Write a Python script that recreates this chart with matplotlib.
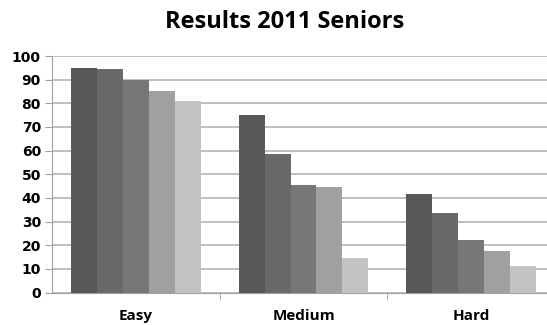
import matplotlib
matplotlib.use("Agg")
import matplotlib.pyplot as plt
import numpy as np

categories = ["Easy", "Medium", "Hard"]
series_values = [
    [95, 75, 41.5],
    [94.5, 58.5, 33.5],
    [90, 45.5, 22],
    [85, 44.5, 17.5],
    [80.8, 14.5, 11],
]
colors = ["#585858", "#696969", "#777777", "#a0a0a0", "#c3c3c3"]
yticks = list(range(0, 101, 10))

fig = plt.figure(figsize=(5.47, 3.25), dpi=100)
ax = fig.add_axes([52/547, (325-292.5)/325, (555-52)/547, (292.5-56)/325])

x = np.arange(len(categories))
n = len(series_values)
w = 0.155
for i, vals in enumerate(series_values):
    ax.bar(x + (i - (n-1)/2) * w, vals, width=w, color=colors[i], zorder=3)

ax.set_ylim(0, 100)
ax.set_xlim(-0.5, len(categories) - 0.5)
ax.set_yticks(yticks)
ax.set_yticklabels([str(v) for v in yticks], fontsize=10, fontweight="bold", family="DejaVu Sans")
ax.yaxis.grid(True, color="#b4b4b4", linewidth=1.2, zorder=0)
ax.set_axisbelow(True)
ax.set_xticks(x)
ax.set_xticklabels(categories, fontsize=11, fontweight="bold", family="Open Sans")
ax.set_xticks([0.5, 1.5], minor=True)
ax.tick_params(axis="x", which="major", length=0, pad=12)
ax.tick_params(axis="x", which="minor", length=5, color="#a0a0a0", direction="out")
ax.tick_params(axis="y", length=5, color="#a0a0a0", pad=3)
for s in ["top", "right"]:
    ax.spines[s].set_visible(False)
ax.spines["left"].set_color("#a0a0a0")
ax.spines["bottom"].set_color("#a0a0a0")

fig.text(285/547, 1 - 22/325, "Results 2011 Seniors", ha="center", va="center",
         fontsize=17, fontweight="bold", family="Open Sans")

fig.savefig("out.png", dpi=100)
